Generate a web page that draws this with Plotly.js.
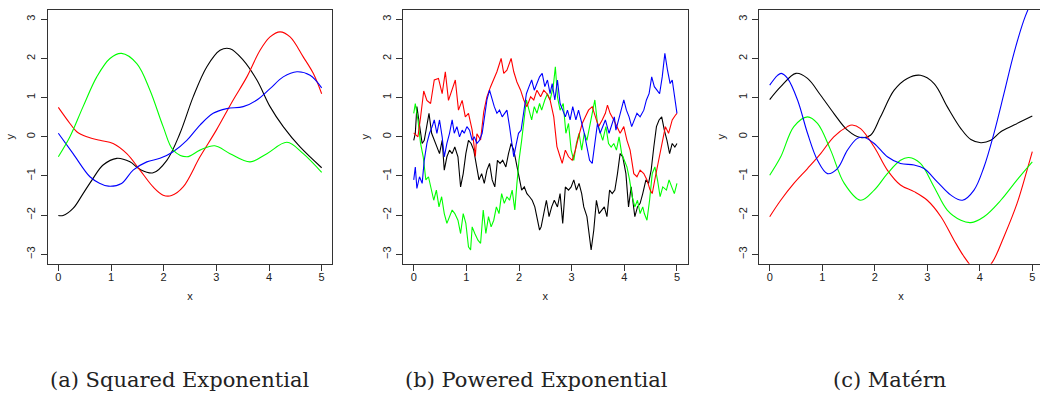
<!DOCTYPE html>
<html>
<head>
<meta charset="utf-8">
<script src="https://cdn.plot.ly/plotly-3.0.1.min.js"></script>
<style>
html,body{margin:0;padding:0;background:#fff;overflow:hidden;width:1040px;height:394px;}
#chart{width:1050px;height:394px;}
</style>
</head>
<body>
<div id="chart"></div>
<script>
// ---------- Panel (a) Squared Exponential ----------
const seBlackX = [0, 0.09, 0.28, 0.47, 0.66, 0.85, 1.11, 1.36, 1.55, 1.8, 2.06, 2.31, 2.56, 2.82, 3.07, 3.26, 3.51, 3.77, 4.02, 4.27, 4.59, 5];
const seBlackY = [-2.01, -2.01, -1.83, -1.45, -1.06, -0.72, -0.55, -0.64, -0.83, -0.92, -0.6, 0.09, 1.02, 1.79, 2.21, 2.25, 1.96, 1.45, 0.77, 0.26, -0.26, -0.79];
const seRedX = [0, 0.22, 0.35, 0.54, 0.79, 1.04, 1.3, 1.55, 1.8, 1.99, 2.15, 2.37, 2.69, 3.0, 3.32, 3.58, 3.83, 4.02, 4.21, 4.4, 4.65, 4.84, 5];
const seRedY = [0.75, 0.34, 0.13, 0, -0.09, -0.17, -0.43, -0.85, -1.28, -1.49, -1.5, -1.28, -0.51, 0.17, 0.94, 1.53, 2.21, 2.55, 2.68, 2.55, 2.04, 1.62, 1.1];
const seBlueX = [0, 0.28, 0.6, 0.79, 0.95, 1.2, 1.42, 1.68, 1.93, 2.18, 2.44, 2.69, 2.94, 3.2, 3.51, 3.77, 4.02, 4.27, 4.53, 4.78, 5];
const seBlueY = [0.09, -0.43, -1.02, -1.19, -1.26, -1.19, -0.85, -0.64, -0.55, -0.38, -0.09, 0.3, 0.6, 0.72, 0.77, 0.94, 1.23, 1.53, 1.66, 1.57, 1.25];
const seGreenX = [0, 0.22, 0.47, 0.73, 0.98, 1.2, 1.49, 1.74, 1.99, 2.18, 2.44, 2.69, 2.97, 3.26, 3.64, 3.96, 4.34, 4.65, 5];
const seGreenY = [-0.51, 0, 0.77, 1.53, 2.0, 2.13, 1.87, 1.19, 0.26, -0.34, -0.51, -0.34, -0.23, -0.43, -0.64, -0.43, -0.14, -0.43, -0.91];

// ---------- Panel (b) Powered Exponential ----------
const peRedX = [0, 0.08, 0.13, 0.19, 0.25, 0.32, 0.39, 0.47, 0.54, 0.6, 0.66, 0.73, 0.79, 0.85, 0.92, 0.98, 1.04, 1.11, 1.17, 1.2, 1.27, 1.33, 1.39, 1.46, 1.52, 1.58, 1.66, 1.71, 1.77, 1.85, 1.9, 1.96, 2.03, 2.09, 2.15, 2.22, 2.28, 2.34, 2.41, 2.47, 2.53, 2.59, 2.66, 2.72, 2.78, 2.82, 2.88, 2.94, 3.01, 3.07, 3.13, 3.2, 3.26, 3.32, 3.39, 3.45, 3.51, 3.58, 3.64, 3.68, 3.73, 3.8, 3.86, 3.92, 3.99, 4.05, 4.11, 4.18, 4.24, 4.3, 4.37, 4.43, 4.49, 4.53, 4.59, 4.65, 4.72, 4.78, 4.84, 4.91, 4.97, 5];
const peRedY = [0.1, 0.0, 0.5, 1.17, 0.93, 0.85, 1.45, 1.49, 1.1, 1.66, 0.93, 1.19, 1.45, 0.68, 0.93, 0.51, 0.6, 0.17, -0.5, 0.08, -0.08, 0.64, 1.02, 1.28, 1.45, 1.66, 2.0, 1.62, 1.7, 2.0, 1.66, 1.4, 1.19, 0.94, 0.77, 1.02, 0.94, 1.19, 1.02, 1.19, 1.1, 0.94, 0.51, -0.25, -0.51, -0.68, -0.34, -0.51, -0.6, -0.34, 0, 0.34, 0.51, 0.68, 0.77, 0.51, 0.26, 0.43, 0.6, 0.81, 0.6, 0.43, 0.26, 0.09, 0.26, -0.09, -0.34, -0.94, -1.02, -0.85, -0.94, -1.1, -1.36, -1.45, -1.02, -0.6, -0.09, 0.26, 0.09, 0.43, 0.55, 0.6];
const peBlueX = [0, 0.03, 0.06, 0.11, 0.16, 0.2, 0.25, 0.3, 0.35, 0.39, 0.44, 0.49, 0.54, 0.58, 0.63, 0.68, 0.73, 0.77, 0.82, 0.87, 0.92, 0.96, 1.01, 1.06, 1.11, 1.15, 1.2, 1.25, 1.3, 1.34, 1.39, 1.44, 1.49, 1.53, 1.58, 1.63, 1.68, 1.72, 1.77, 1.82, 1.88, 1.9, 1.95, 1.99, 2.04, 2.09, 2.14, 2.19, 2.24, 2.29, 2.34, 2.39, 2.44, 2.49, 2.54, 2.59, 2.63, 2.68, 2.73, 2.78, 2.83, 2.88, 2.92, 2.97, 3.02, 3.08, 3.13, 3.18, 3.24, 3.29, 3.34, 3.39, 3.44, 3.49, 3.54, 3.59, 3.64, 3.71, 3.81, 3.84, 3.89, 3.94, 3.99, 4.04, 4.09, 4.14, 4.19, 4.24, 4.3, 4.37, 4.42, 4.47, 4.52, 4.57, 4.62, 4.67, 4.72, 4.77, 4.82, 4.87, 4.91, 4.96, 5];
const peBlueY = [-1.1, -0.77, -1.32, -1.02, -1.19, -0.6, -0.17, 0.09, 0.26, 0.43, 0.09, 0.43, 0, -0.51, -0.17, 0.09, 0.43, 0.09, 0.26, 0, 0.17, 0.09, 0.26, 0.17, -0.09, 0, -0.17, -0.09, 0.09, 0.43, 0.94, 1.19, 0.94, 0.77, 0.6, 0.68, 0.51, 0.6, 0.68, 0.26, -0.26, -0.51, -0.17, 0.09, 0.17, 0.68, 1.1, 1.28, 1.45, 1.19, 1.36, 1.53, 1.62, 1.28, 1.45, 1.1, 1.36, 0.94, 1.45, 0.85, 0.68, 0.51, 0.68, 0.43, 0.77, 0.43, 0.68, 0.43, 0.09, -0.26, -0.6, -0.68, -0.09, 0.34, 0.09, 0.26, 0.43, 0.09, 0.51, 0.17, 0.43, 0.68, 0.94, 0.68, 0.51, 0.26, 0.43, 0.6, 0.51, 0.68, 0.94, 1.1, 1.53, 1.28, 1.19, 1.1, 1.53, 2.13, 1.7, 1.36, 1.45, 1.02, 0.6, 0.85];
const peBlackX = [0, 0.03, 0.06, 0.11, 0.16, 0.2, 0.25, 0.29, 0.34, 0.39, 0.44, 0.49, 0.54, 0.58, 0.63, 0.68, 0.73, 0.78, 0.84, 0.89, 0.94, 0.99, 1.04, 1.09, 1.14, 1.19, 1.24, 1.29, 1.34, 1.39, 1.44, 1.49, 1.54, 1.59, 1.64, 1.69, 1.75, 1.8, 1.85, 1.9, 1.95, 2.0, 2.05, 2.1, 2.15, 2.2, 2.25, 2.3, 2.39, 2.42, 2.47, 2.52, 2.57, 2.62, 2.67, 2.73, 2.78, 2.83, 2.88, 2.94, 2.99, 3.04, 3.09, 3.14, 3.19, 3.23, 3.29, 3.33, 3.37, 3.42, 3.47, 3.52, 3.57, 3.62, 3.67, 3.72, 3.77, 3.82, 3.87, 3.92, 3.97, 4.03, 4.08, 4.13, 4.16, 4.2, 4.25, 4.3, 4.35, 4.41, 4.46, 4.51, 4.56, 4.61, 4.66, 4.71, 4.76, 4.81, 4.86, 4.91, 4.96, 5];
const peBlackY = [-0.09, 0.09, 0.77, 0.34, -0.17, -0.09, 0.26, 0.6, 0.09, -0.09, -0.26, -0.43, -0.09, -0.85, -0.51, -0.34, -0.43, -0.26, -0.51, -1.28, -0.94, -0.43, -0.09, -0.17, -0.34, -0.77, -1.1, -0.94, -1.19, -0.85, -0.68, -1.1, -1.28, -0.6, -0.68, -0.6, -0.77, -0.43, -0.17, -0.34, -0.68, -1.02, -1.36, -1.28, -1.45, -1.53, -1.62, -1.79, -2.38, -2.3, -1.96, -1.62, -2.04, -1.79, -1.62, -1.79, -1.45, -2.21, -1.28, -1.36, -1.28, -1.1, -1.36, -1.19, -1.45, -1.79, -2.04, -2.47, -2.89, -2.38, -1.62, -1.96, -1.87, -1.79, -2.04, -1.36, -1.45, -1.36, -0.94, -0.43, -0.51, -0.94, -1.79, -1.28, -1.62, -2.04, -1.79, -1.7, -1.45, -1.1, -1.19, -0.85, -0.26, 0.26, 0.43, 0.51, 0.17, -0.09, -0.43, -0.17, -0.26, -0.17, 0];
const peGreenX = [0, 0.03, 0.08, 0.13, 0.18, 0.23, 0.28, 0.33, 0.38, 0.43, 0.48, 0.53, 0.58, 0.63, 0.68, 0.73, 0.78, 0.84, 0.89, 0.94, 0.99, 1.04, 1.08, 1.11, 1.16, 1.22, 1.27, 1.32, 1.37, 1.42, 1.47, 1.52, 1.57, 1.62, 1.67, 1.72, 1.77, 1.82, 1.87, 1.92, 1.96, 2.0, 2.05, 2.09, 2.14, 2.19, 2.24, 2.29, 2.34, 2.39, 2.43, 2.49, 2.54, 2.59, 2.65, 2.69, 2.73, 2.78, 2.84, 2.89, 2.94, 2.99, 3.04, 3.09, 3.14, 3.19, 3.24, 3.29, 3.34, 3.39, 3.44, 3.49, 3.54, 3.59, 3.65, 3.7, 3.75, 3.8, 3.85, 3.9, 3.95, 4.0, 4.05, 4.1, 4.15, 4.2, 4.25, 4.3, 4.35, 4.38, 4.43, 4.48, 4.53, 4.58, 4.63, 4.68, 4.73, 4.8, 4.85, 4.9, 4.95, 5];
const peGreenY = [0.6, 0.85, 0.43, -0.17, -0.51, -1.1, -1.02, -1.36, -1.62, -1.36, -1.79, -1.53, -1.96, -2.21, -2.04, -1.87, -1.96, -2.13, -2.47, -1.96, -2.21, -2.81, -2.89, -2.3, -2.47, -2.64, -2.72, -1.87, -2.47, -2.04, -2.3, -2.13, -1.79, -1.96, -1.45, -1.7, -1.53, -1.62, -1.36, -1.87, -1.19, -0.6, -0.09, 0.43, 0.94, 0.68, 0.43, 0.77, 0.6, 0.85, 0.68, 0.94, 1.1, 0.94, 1.28, 1.79, 1.02, 0.68, 0.85, 0.09, 0.34, -0.34, -0.6, -0.17, 0.09, -0.34, 0.09, -0.09, 0.26, 0.68, 0.94, 0.34, 0.09, -0.09, 0.26, -0.17, -0.26, -0.17, -0.34, 0, -0.43, -0.6, -0.77, -1.1, -1.53, -1.79, -1.62, -1.96, -1.79, -1.96, -2.13, -1.62, -0.94, -0.77, -1.1, -1.53, -1.28, -1.36, -1.1, -1.28, -1.45, -1.19];

// ---------- Panel (c) Matérn ----------
const maBlackX = [0, 0.21, 0.5, 0.72, 0.97, 1.22, 1.48, 1.73, 1.92, 2.11, 2.37, 2.62, 2.87, 3.13, 3.38, 3.64, 3.83, 4.02, 4.21, 4.4, 4.65, 5];
const maBlackY = [0.95, 1.28, 1.62, 1.49, 1.06, 0.6, 0.17, -0.02, 0.04, 0.51, 1.19, 1.49, 1.57, 1.36, 0.77, 0.21, -0.07, -0.15, -0.09, 0.13, 0.3, 0.53];
const maBlueX = [0, 0.15, 0.22, 0.34, 0.53, 0.72, 0.91, 1.1, 1.29, 1.48, 1.67, 1.8, 1.99, 2.24, 2.49, 2.75, 2.94, 3.19, 3.45, 3.67, 3.89, 4.08, 4.27, 4.46, 4.65, 4.84, 5];
const maBlueY = [1.32, 1.57, 1.62, 1.49, 0.94, 0.09, -0.6, -0.94, -0.81, -0.34, -0.04, -0.02, -0.17, -0.51, -0.68, -0.72, -0.81, -1.15, -1.49, -1.62, -1.36, -0.77, 0.09, 1.1, 2.13, 2.98, 3.5];
const maGreenX = [0, 0.21, 0.46, 0.72, 0.91, 1.16, 1.42, 1.73, 1.99, 2.24, 2.49, 2.65, 2.87, 3.13, 3.38, 3.64, 3.83, 4.08, 4.4, 4.71, 5];
const maGreenY = [-0.98, -0.51, 0.26, 0.51, 0.34, -0.34, -1.19, -1.62, -1.36, -0.94, -0.6, -0.53, -0.68, -1.28, -1.87, -2.13, -2.19, -2.04, -1.62, -1.1, -0.64];
const maRedX = [0, 0.21, 0.46, 0.72, 0.97, 1.22, 1.48, 1.57, 1.73, 1.99, 2.24, 2.49, 2.75, 3.0, 3.26, 3.51, 3.7, 3.9, 4.03, 4.24, 4.46, 4.71, 4.9, 5];
const maRedY = [-2.04, -1.62, -1.19, -0.81, -0.43, 0, 0.26, 0.3, 0.21, -0.26, -0.85, -1.23, -1.4, -1.62, -2.04, -2.64, -3.06, -3.4, -3.5, -3.2, -2.55, -1.7, -0.85, -0.38];

// ---------- tick labels / captions ----------
const xTicks = [0, 1, 2, 3, 4, 5];
const yTicks = [-3, -2, -1, 0, 1, 2, 3];
const yTickText = ['\u22123', '\u22122', '\u22121', '0', '1', '2', '3'];
const captions = ['(a) Squared Exponential', '(b) Powered Exponential', '(c) Mat\u00e9rn'];

const W = 1050, H = 394;
const boxes = [[47.8, 332.2], [403.2, 687.5], [759.2, 1042.8]];
const capCenters = [179, 536.5, 889];
const yDom = [1 - 263.7 / H, 1 - 9.9 / H];

const COL = {black: '#000000', red: '#FF0000', blue: '#0000FF', green: '#00FF00'};
function tr(x, y, c, k, smooth) {
  const s = k === 1 ? '' : String(k);
  return {x: x, y: y, type: 'scatter', mode: 'lines', xaxis: 'x' + s, yaxis: 'y' + s,
    line: {color: COL[c], width: 1.1, shape: smooth ? 'spline' : 'linear', smoothing: 1},
    hoverinfo: 'skip', showlegend: false};
}
const data = [
  tr(seBlackX, seBlackY, 'black', 1, true), tr(seRedX, seRedY, 'red', 1, true),
  tr(seBlueX, seBlueY, 'blue', 1, true), tr(seGreenX, seGreenY, 'green', 1, true),
  tr(peBlackX, peBlackY, 'black', 2, false), tr(peGreenX, peGreenY, 'green', 2, false),
  tr(peRedX, peRedY, 'red', 2, false), tr(peBlueX, peBlueY, 'blue', 2, false),
  tr(maBlackX, maBlackY, 'black', 3, true), tr(maRedX, maRedY, 'red', 3, true),
  tr(maGreenX, maGreenY, 'green', 3, true), tr(maBlueX, maBlueY, 'blue', 3, true)
];

const tickFont = {family: 'Liberation Sans, Arial, sans-serif', size: 11, color: '#222'};
const layout = {
  width: W, height: H, margin: {l: 0, r: 0, t: 0, b: 0},
  paper_bgcolor: '#fff', plot_bgcolor: '#fff', showlegend: false,
  annotations: []
};
for (let i = 0; i < 3; i++) {
  const s = i === 0 ? '' : String(i + 1);
  layout['xaxis' + s] = {
    domain: [boxes[i][0] / W, boxes[i][1] / W], range: [-0.2, 5.2], anchor: 'y' + s,
    tickmode: 'array', tickvals: xTicks, ticks: 'outside', ticklen: 6, tickcolor: '#333', tickwidth: 1,
    ticklabelstandoff: -3,
    showline: true, mirror: true, linecolor: '#333', linewidth: 1.2, showgrid: false, zeroline: false,
    tickfont: tickFont, title: {text: 'x', font: tickFont, standoff: 10}
  };
  layout['yaxis' + s] = {
    domain: yDom, range: [-3.24, 3.24], anchor: 'x' + s,
    tickmode: 'array', tickvals: yTicks, ticktext: yTickText, tickangle: -90,
    ticks: 'outside', ticklen: 6, tickcolor: '#333', tickwidth: 1, ticklabelstandoff: 1,
    showline: true, mirror: true, linecolor: '#333', linewidth: 1.2, showgrid: false, zeroline: false,
    tickfont: tickFont, title: {text: 'y', font: tickFont, standoff: 8}
  };
  layout.annotations.push({
    text: captions[i], xref: 'paper', yref: 'paper',
    x: capCenters[i] / W, y: 1 - 380 / H,
    xanchor: 'center', yanchor: 'middle', showarrow: false,
    font: {family: 'DejaVu Serif, serif', size: 21, color: '#222'}
  });
}
Plotly.newPlot('chart', data, layout, {staticPlot: true, displayModeBar: false});
</script>
</body>
</html>
